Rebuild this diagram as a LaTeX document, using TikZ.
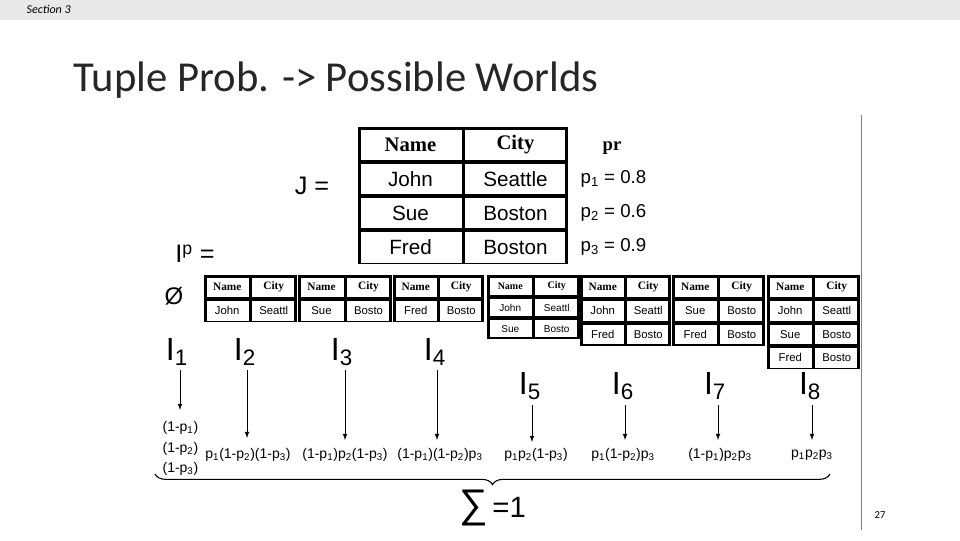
\documentclass[tikz,border=0pt]{standalone}
\usepackage{fontspec}
\setmainfont{Liberation Sans}
\newfontfamily\titlefont{Carlito}
\newfontfamily\serifb{Liberation Serif}
\usetikzlibrary{decorations.pathreplacing}
\newcommand\subs[1]{\textsubscript{#1}}
\newcommand\wtab[7]{% x0 x1 y0 rowh nrows fontsize list
 \pgfmathsetmacro\xm{(#1+#2)/2}\pgfmathsetmacro\yb{#3+#5*#4}
 \pgfmathsetmacro\ca{(#1+\xm)/2}\pgfmathsetmacro\cb{(#2+\xm)/2}
 \fill (#1,#3) rectangle (#2,\yb);
 \foreach \i in {1,...,#5}{
   \fill[white] (#1+3,{#3+(\i-1)*#4+2.5}) rectangle (\xm-1.5,{#3+\i*#4-1.5});
   \fill[white] (\xm+1.5,{#3+(\i-1)*#4+2.5}) rectangle (#2-3,{#3+\i*#4-1.5});}
 \node[font=\serifb\bfseries\fontsize{#6}{#6}\selectfont] at (\ca,{#3+0.5*#4+0.5}) {Name};
 \node[font=\serifb\bfseries\fontsize{#6}{#6}\selectfont] at (\cb,{#3+0.5*#4+0.5}) {City};
 \foreach \i/\a/\b in {#7}{
   \node[font=\fontsize{#6}{#6}\selectfont] at (\ca,{#3+(\i+0.5)*#4+0.5}) {\a};
   \node[font=\fontsize{#6}{#6}\selectfont] at (\cb,{#3+(\i+0.5)*#4+0.5}) {\b};}
}
\begin{document}
\begin{tikzpicture}[x=0.75pt,y=-0.75pt,
  lab/.style={font=\fontsize{24}{24}\selectfont,inner sep=0pt},
  expr/.style={font=\fontsize{10.5}{12}\selectfont,inner sep=1pt},
  arr/.style={-latex,semithick}]
\useasboundingbox (0,0) rectangle (960,540);
\fill[white] (0,0) rectangle (960,540);
\fill[gray!18] (0,0) rectangle (960,20);
\node[anchor=west,font=\titlefont\itshape\fontsize{9}{9}\selectfont] (sec) at (22,9) {Section 3};
\node[anchor=west,font=\titlefont\fontsize{32}{32}\selectfont,text=black!85] (title) at (69,80) {Tuple Prob. -> Possible Worlds};
\draw[gray,thin] (861,115) -- (861,530);
\node[font=\titlefont\fontsize{8}{8}\selectfont] (pg) at (880,515) {27};
% main table
\wtab{358}{568}{127}{34.3}{4}{15.5}{1/John/Seattle,2/Sue/Boston,3/Fred/Boston}
\node[font=\fontsize{19}{19}\selectfont] (J) at (312,186) {J =};
\node[font=\serifb\bfseries\fontsize{14}{14}\selectfont] (pr) at (612,148) {pr};
\node[anchor=west,font=\fontsize{14}{14}\selectfont] (p1) at (576,179) {p\subs{1} = 0.8};
\node[anchor=west,font=\fontsize{14}{14}\selectfont] (p2) at (576,213) {p\subs{2} = 0.6};
\node[anchor=west,font=\fontsize{14}{14}\selectfont] (p3) at (576,247) {p\subs{3} = 0.9};
\node[font=\fontsize{19}{19}\selectfont] (Ip) at (195,254) {I\textsuperscript{p} =};
\node[font=\fontsize{18}{18}\selectfont] (empty) at (174,296) {\O};
% worlds
\wtab{204}{297}{275}{23.5}{2}{8.5}{1/John/Seattl}
\wtab{298}{392}{275}{23.5}{2}{8.5}{1/Sue/Bosto}
\wtab{393}{484}{275}{23.5}{2}{8.5}{1/Fred/Bosto}
\wtab{487}{580}{275}{21.3}{3}{7.5}{1/John/Seattl,2/Sue/Bosto}
\wtab{580}{671}{275}{23.5}{3}{8.5}{1/John/Seattl,2/Fred/Bosto}
\wtab{672}{765}{275}{23.5}{3}{8.5}{1/Sue/Bosto,2/Fred/Bosto}
\wtab{767}{860}{275}{23.5}{4}{8.5}{1/John/Seattl,2/Sue/Bosto,3/Fred/Bosto}
% labels
\node[lab] (I1) at (177,352) {I\subs{1}};
\node[lab] (I2) at (245,352) {I\subs{2}};
\node[lab] (I3) at (342,352) {I\subs{3}};
\node[lab] (I4) at (435,352) {I\subs{4}};
\node[lab] (I5) at (530,386) {I\subs{5}};
\node[lab] (I6) at (623,386) {I\subs{6}};
\node[lab] (I7) at (715,386) {I\subs{7}};
\node[lab] (I8) at (810,386) {I\subs{8}};
% expressions
\node[expr,anchor=west] (e1a) at (161,428) {(1-p\subs{1})};
\node[expr,anchor=west] (e1b) at (161,449) {(1-p\subs{2})};
\node[expr,anchor=west] (e1c) at (161,469) {(1-p\subs{3})};
\node[expr] (e2) at (248,455) {p\subs{1}(1-p\subs{2})(1-p\subs{3})};
\node[expr] (e3) at (345,455) {(1-p\subs{1})p\subs{2}(1-p\subs{3})};
\node[expr] (e4) at (440,455) {(1-p\subs{1})(1-p\subs{2})p\subs{3}};
\node[expr] (e5) at (536,455) {p\subs{1}p\subs{2}(1-p\subs{3})};
\node[expr] (e6) at (623,455) {p\subs{1}(1-p\subs{2})p\subs{3}};
\node[expr] (e7) at (720,455) {(1-p\subs{1})p\subs{2}p\subs{3}};
\node[expr] (e8) at (812,455) {p\subs{1}p\subs{2}p\subs{3}};
% arrow ends
\foreach \n/\x/\ya/\yb in {1/180/370/410, 2/247/370/438, 3/345/370/440, 4/437/370/440,
  5/532/405/442, 6/625/405/440, 7/718/405/440, 8/812/405/440}{
  \coordinate (s\n) at (\x,\ya); \coordinate (t\n) at (\x,\yb);
  \draw[arr] (s\n) -- (t\n);}
% brace
\draw[thick,decorate,decoration={brace,amplitude=8pt}] (830,474) -- (155,474) node[midway,below=8pt,font=\fontsize{22}{22}\selectfont] (sum) {{\fontsize{30}{30}\selectfont ∑}\,=1};
\end{tikzpicture}
\end{document}
